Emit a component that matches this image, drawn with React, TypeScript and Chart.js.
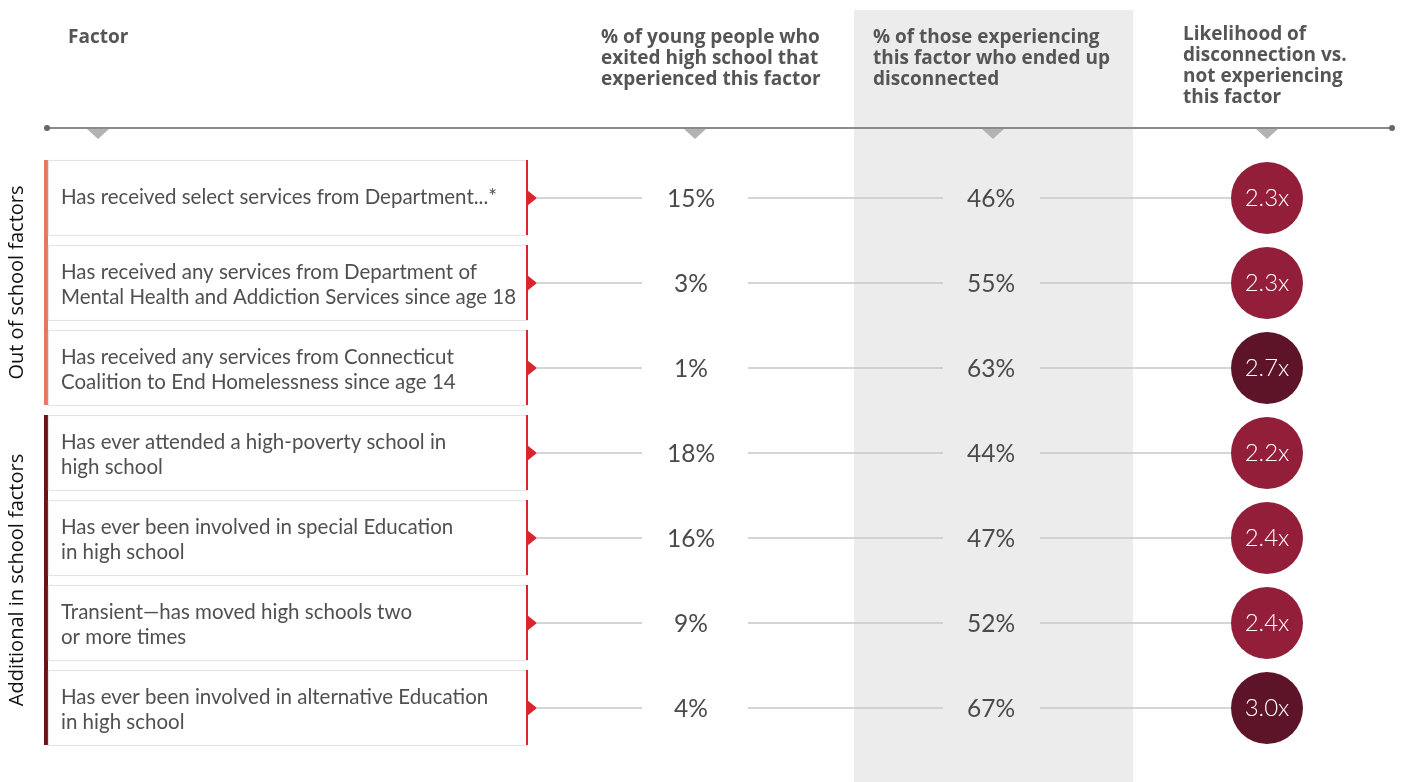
import React, { useEffect, useRef } from "react";
import { Chart, registerables } from "chart.js";

Chart.register(...registerables);

const headers: string[][] = [
  ["Factor"],
  ["% of young people who", "exited high school that", "experienced this factor"],
  ["% of those experiencing", "this factor who ended up", "disconnected"],
  ["Likelihood of", "disconnection vs.", "not experiencing", "this factor"],
];

const factors: string[][] = [
  ["Has received select services from Department...*"],
  ["Has received any services from Department of", "Mental Health and Addiction Services since age 18"],
  ["Has received any services from Connecticut", "Coalition to End Homelessness since age 14"],
  ["Has ever attended a high-poverty school in", "high school"],
  ["Has ever been involved in special Education", "in high school"],
  ["Transient\u2014has moved high schools two", "or more times"],
  ["Has ever been involved in alternative Education", "in high school"],
];

const groups = ["Out of school factors", "Additional in school factors"];
const groupOfRow = [0, 0, 0, 1, 1, 1, 1];

const pctExperienced = [15, 3, 1, 18, 16, 9, 4];
const pctDisconnected = [46, 55, 63, 44, 47, 52, 67];
const likelihood = [2.3, 2.3, 2.7, 2.2, 2.4, 2.4, 3.0];

// layout (pixel positions on the x scale)
const COL_X = { factor: 61, pct1: 691, pct2: 991, like: 1267 };
const GROUP_COLORS = ["#e8775f", "#6b1418"];
const normalCircle = "#931e3a";
const darkCircle = "#5e1428";

export default function App() {
  const ref = useRef<HTMLCanvasElement | null>(null);

  useEffect(() => {
    document.body.style.margin = "0";
    const canvas = ref.current!;
    const bodyFont = "Lato, 'Open Sans', sans-serif";
    const headFont = "'Open Sans', Lato, sans-serif";

    const drawPlugin = {
      id: "tableDraw",
      beforeDatasetsDraw(chart: any) {
        const ctx: CanvasRenderingContext2D = chart.ctx;
        const xs = chart.scales.x;
        const ys = chart.scales.y;
        const X = (v: number) => xs.getPixelForValue(v);
        const Y = (v: number) => ys.getPixelForValue(v);
        ctx.save();

        // gray column
        ctx.fillStyle = "#ececec";
        ctx.fillRect(X(854), 10, X(1133) - X(854), chart.height - 10);

        // headers
        ctx.fillStyle = "#555555";
        ctx.font = `bold 19px ${headFont}`;
        ctx.textBaseline = "middle";
        ctx.textAlign = "left";
        ctx.fillText(headers[0][0], X(68), 38);
        headers[1].forEach((t, i) => ctx.fillText(t, X(601), 38 + i * 21));
        headers[2].forEach((t, i) => ctx.fillText(t, X(873), 38 + i * 21));
        headers[3].forEach((t, i) => ctx.fillText(t, X(1183), 35 + i * 20.7));

        // header rule
        ctx.strokeStyle = "#8a8a8a";
        ctx.lineWidth = 2;
        ctx.beginPath();
        ctx.moveTo(X(47), 128);
        ctx.lineTo(X(1392), 128);
        ctx.stroke();
        ctx.fillStyle = "#666";
        [47, 1392].forEach((px) => {
          ctx.beginPath();
          ctx.arc(X(px), 128, 3, 0, Math.PI * 2);
          ctx.fill();
        });
        ctx.fillStyle = "#b3b3b3";
        [98, 695, 993, 1267].forEach((px) => {
          ctx.beginPath();
          ctx.moveTo(X(px) - 11, 129);
          ctx.lineTo(X(px) + 11, 129);
          ctx.lineTo(X(px), 139);
          ctx.closePath();
          ctx.fill();
        });

        // group bars and labels
        groups.forEach((g, gi) => {
          const rows = groupOfRow.map((r, i) => (r === gi ? i : -1)).filter((i) => i >= 0);
          const top = Y(rows[0]) - 38;
          const bot = Y(rows[rows.length - 1]) + 37;
          ctx.fillStyle = GROUP_COLORS[gi];
          ctx.fillRect(X(44), top, 4, bot - top);
          ctx.save();
          ctx.translate(X(17), (top + bot) / 2);
          ctx.rotate(-Math.PI / 2);
          ctx.fillStyle = "#111";
          ctx.font = `20px ${headFont}`;
          ctx.textAlign = "center";
          ctx.textBaseline = "middle";
          ctx.fillText(g, 0, 0);
          ctx.restore();
        });

        // rows
        factors.forEach((lines, i) => {
          const cy = Y(i);
          const top = cy - 38;
          const bot = cy + 37;
          ctx.strokeStyle = "#e4e4e4";
          ctx.lineWidth = 1.2;
          ctx.strokeRect(X(48) + 0.5, top + 0.5, X(527) - X(48), bot - top);
          ctx.fillStyle = "#d9262e";
          ctx.fillRect(X(526), top, 2, bot - top);
          ctx.beginPath();
          ctx.moveTo(X(527), cy - 8);
          ctx.lineTo(X(537), cy);
          ctx.lineTo(X(527), cy + 8);
          ctx.closePath();
          ctx.fill();

          // factor text
          ctx.fillStyle = "#505050";
          ctx.font = `20.5px ${bodyFont}`;
          ctx.textAlign = "left";
          ctx.textBaseline = "middle";
          if (lines.length === 1) {
            ctx.fillText(lines[0], X(COL_X.factor), cy - 1);
          } else {
            ctx.fillText(lines[0], X(COL_X.factor), cy - 11);
            ctx.fillText(lines[1], X(COL_X.factor), cy + 14);
          }

          // connectors
          ctx.strokeStyle = "#c8c8c8";
          ctx.lineWidth = 1.5;
          ctx.beginPath();
          ctx.moveTo(X(537), cy);
          ctx.lineTo(X(642), cy);
          ctx.moveTo(X(748), cy);
          ctx.lineTo(X(943), cy);
          ctx.moveTo(X(1040), cy);
          ctx.lineTo(X(1235), cy);
          ctx.stroke();

          // values
          ctx.fillStyle = "#4a4a4a";
          ctx.font = `24.5px ${bodyFont}`;
          ctx.textAlign = "center";
          ctx.fillText(`${pctExperienced[i]}%`, X(COL_X.pct1), cy + 1);
          ctx.fillText(`${pctDisconnected[i]}%`, X(COL_X.pct2), cy + 1);
        });
        ctx.restore();
      },
      afterDatasetsDraw(chart: any) {
        const ctx: CanvasRenderingContext2D = chart.ctx;
        const meta = chart.getDatasetMeta(0);
        ctx.save();
        ctx.fillStyle = "#ffffff";
        ctx.font = `300 24px ${bodyFont}`;
        ctx.textAlign = "center";
        ctx.textBaseline = "middle";
        meta.data.forEach((pt: any, i: number) => {
          ctx.fillText(`${likelihood[i].toFixed(1)}x`, pt.x, pt.y);
        });
        ctx.restore();
      },
    };

    const chart = new Chart(canvas, {
      type: "scatter",
      data: {
        datasets: [
          {
            data: likelihood.map((v, i) => ({ x: COL_X.like, y: i })),
            pointRadius: 36,
            pointHoverRadius: 36,
            borderWidth: 0,
            backgroundColor: likelihood.map((v) => (v >= 2.7 ? darkCircle : normalCircle)),
          },
        ],
      },
      options: {
        animation: false,
        responsive: false,
        maintainAspectRatio: false,
        events: [],
        layout: { autoPadding: false, padding: { top: 155.5, bottom: 782 - 750.5, left: 0, right: 0 } },
        plugins: { legend: { display: false }, tooltip: { enabled: false } },
        scales: {
          x: { type: "linear", min: 0, max: 1402, display: false },
          y: { type: "linear", min: -0.5, max: 6.5, reverse: true, display: false },
        },
      },
      plugins: [drawPlugin],
    });
    return () => chart.destroy();
  }, []);

  return <canvas ref={ref} width={1402} height={782} style={{ display: "block" }} />;
}
